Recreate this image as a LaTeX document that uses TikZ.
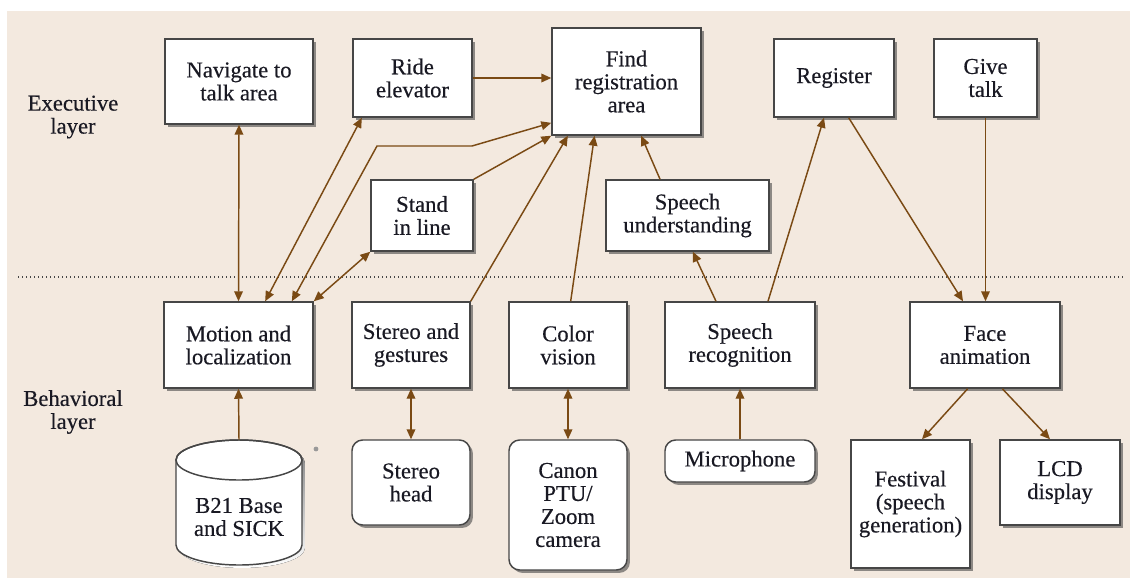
\documentclass[tikz,border=0pt]{standalone}
\usepackage{fontspec}
\setmainfont[FakeBold=0.35]{Liberation Serif}
\usetikzlibrary{shadows,arrows.meta}
\definecolor{bg}{RGB}{243,233,223}
\definecolor{arr}{RGB}{122,74,20}
\definecolor{edge}{RGB}{70,70,70}
\definecolor{shade}{RGB}{140,136,132}
\definecolor{txt}{RGB}{25,25,35}
\begin{document}
\begin{tikzpicture}[x=0.75pt,y=-0.75pt,
  txtfont/.style={font=\fontsize{17}{17.25}\selectfont, text=txt},
  box/.style={draw=edge, line width=1.1pt, fill=white, align=center, inner sep=2pt, txtfont,
    drop shadow={shadow xshift=2.2pt, shadow yshift=-2.2pt, fill=shade, opacity=1}},
  rbox/.style={box, rounded corners=8pt},
  link/.style={draw=arr, line width=1.1pt, -{Triangle[length=7.5pt,width=6.5pt]}},
  dlink/.style={draw=arr, line width=1.1pt, {Triangle[length=7.5pt,width=6.5pt]}-{Triangle[length=7.5pt,width=6.5pt]}},
  lbl/.style={align=center, txtfont}
]
\useasboundingbox (0,0) rectangle (1130,578);
\fill[bg] (7,11) rectangle (1130,578);

% layer labels
\node[lbl] (exec) at (73,117) {Executive\\layer};
\node[lbl] (behav) at (73,412) {Behavioral\\layer};

% separator
\coordinate (sepL) at (18,277);
\coordinate (sepR) at (1125,277);
\draw[edge, dotted, line width=1pt] (sepL) -- (sepR);

% executive layer
\node[box, minimum width=111pt, minimum height=63.75pt] (nav) at (239,81.5) {Navigate to\\talk area};
\node[box, minimum width=89.25pt, minimum height=58.5pt] (ride) at (412.5,78) {Ride\\elevator};
\node[box, minimum width=111.75pt, minimum height=80.25pt] (find) at (626.5,81.5) {Find\\registration\\area};
\node[box, minimum width=90pt, minimum height=58.5pt] (reg) at (834,78) {Register};
\node[box, minimum width=77.25pt, minimum height=58.5pt] (give) at (985.5,78) {Give\\talk};
\node[box, minimum width=76.5pt, minimum height=53.25pt] (stand) at (422,215.5) {Stand\\in line};
\node[box, minimum width=122.25pt, minimum height=53.25pt] (und) at (687.5,215.5) {Speech\\understanding};

% behavioral layer
\node[box, minimum width=111.75pt, minimum height=64.5pt] (motion) at (238.5,345) {Motion and\\localization};
\node[box, minimum width=88.5pt, minimum height=64.5pt] (stereo) at (411,345) {Stereo and\\gestures};
\node[box, minimum width=88.5pt, minimum height=64.5pt] (color) at (568,345) {Color\\vision};
\node[box, minimum width=112.5pt, minimum height=64.5pt] (srec) at (740,345) {Speech\\recognition};
\node[box, minimum width=112.5pt, minimum height=64.5pt] (face) at (985,345) {Face\\animation};

% devices
\node[rbox, minimum width=88.5pt, minimum height=63.75pt] (shead) at (411,482.5) {Stereo\\head};
\node[rbox, minimum width=88.5pt, minimum height=97.5pt] (canon) at (568,505) {Canon\\PTU/\\Zoom\\camera};
\node[rbox, minimum width=112.5pt, minimum height=31.5pt] (mic) at (740,461) {Microphone};
\node[box, minimum width=89.25pt, minimum height=96pt] (fest) at (910.5,504) {Festival\\(speech\\generation)};
\node[box, minimum width=90pt, minimum height=63.75pt] (lcd) at (1060,482.5) {LCD\\display};

% cylinder
\fill[shade, xshift=2.2pt, yshift=-2.2pt]
  (176,460) -- (176,545) arc[start angle=180, end angle=360, x radius=47.25pt, y radius=15pt]
  -- (302,460) arc[start angle=0, end angle=180, x radius=47.25pt, y radius=15pt] -- cycle;
\filldraw[fill=white, draw=edge, line width=1.1pt]
  (176,460) -- (176,545) arc[start angle=180, end angle=360, x radius=47.25pt, y radius=15pt]
  -- (302,460) arc[start angle=0, end angle=180, x radius=47.25pt, y radius=15pt] -- cycle;
\draw[edge, line width=1.1pt] (239,460) ellipse [x radius=47.25pt, y radius=15pt];
\node[minimum width=94.5pt, minimum height=93.75pt, inner sep=0pt] (cyl) at (239,502.5) {};
\node[lbl] (cyltext) at (239,517) {B21 Base\\and SICK};
\fill[black!40] (316,449) circle[radius=1.8pt];

% connectors
\draw[dlink] (nav.south) -- (motion.north);
\draw[dlink] ([xshift=-38pt]ride.south) -- ([xshift=20pt]motion.north);
\draw[dlink] ([xshift=40pt]motion.north) -- (377,146) -- (472,146) -- ([yshift=-31pt]find.west);
\draw[dlink] (stand.south west) -- (motion.north east);
\draw[link] (stand.north east) -- (find.south west);
\draw[link] (ride.east) -- (ride.east -| find.west);
\draw[link] (stereo.north east) -- ([xshift=-44pt]find.south);
\draw[link] ([xshift=2pt]color.north) -- ([xshift=-24pt]find.south);
\draw[link] ([xshift=-20.6pt]und.north) -- ([xshift=11pt]find.south);
\draw[link] ([xshift=-18pt]srec.north) -- ([xshift=4pt]und.south);
\draw[link] ([xshift=21pt]srec.north) -- ([xshift=-7.5pt]reg.south);
\draw[link] ([xshift=11pt]reg.south) -- ([xshift=-16.5pt]face.north);
\draw[link] (give.south) -- (give.south |- face.north);
\draw[link] ([xshift=-13pt]face.south) -- ([xshift=8.6pt]fest.north);
\draw[link] ([xshift=13pt]face.south) -- ([xshift=-7.5pt]lcd.north);
\draw[link] (mic.north) -- (srec.south);
\draw[link] (cyl.north) -- (motion.south);
\draw[dlink] (shead.north) -- (stereo.south);
\draw[dlink] (canon.north) -- (color.south);
\end{tikzpicture}
\end{document}
